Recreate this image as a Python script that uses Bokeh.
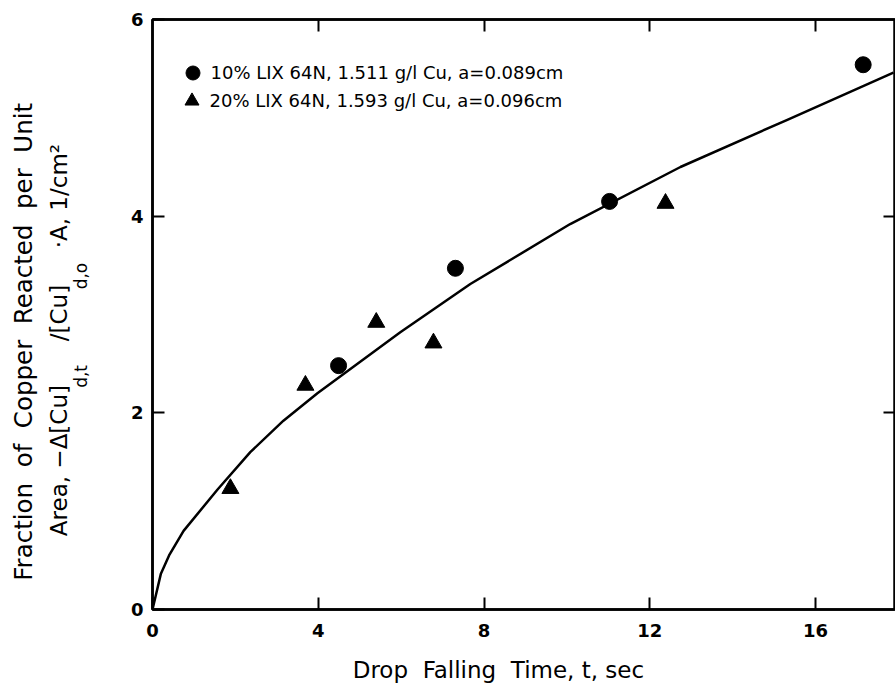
from bokeh.plotting import figure
from bokeh.models import Range1d, LinearAxis, FixedTicker, Legend, LegendItem
from bokeh.embed import file_html
from bokeh.resources import INLINE

# Fraction of copper reacted per unit area vs. drop falling time
t_10 = [4.49, 7.31, 11.03, 17.15]          # 10% LIX 64N, sec
f_10 = [2.48, 3.47, 4.15, 5.54]            # 1/cm^2
t_20 = [1.88, 3.69, 5.40, 6.78, 12.38]     # 20% LIX 64N, sec
f_20 = [1.23, 2.28, 2.92, 2.71, 4.13]      # 1/cm^2

# Model curve
t_fit = [0, 0.2, 0.4, 0.75, 1.57, 2.36, 3.16, 3.98, 5.98, 7.67,
         10.08, 12.74, 15.32, 17.88]
f_fit = [0, 0.36, 0.55, 0.80, 1.22, 1.60, 1.92, 2.20, 2.82, 3.31,
         3.92, 4.50, 4.98, 5.46]

x_ticks = [0, 4, 8, 12, 16]
y_ticks = [0, 2, 4, 6]
series_labels = ["10% LIX 64N, 1.511 g/l Cu, a=0.089cm",
                 "20% LIX 64N, 1.593 g/l Cu, a=0.096cm"]

FONT = "DejaVu Sans"
NB = "\u00a0"   # non-breaking space, used for spacing inside titles


def gap(n):
    return NB * n


x_title = "Drop" + NB + " Falling" + NB + " Time, t, sec" + gap(7)
y_title_1 = (NB + " ").join(["Fraction", "of", "Copper", "Reacted", "per",
                             "Unit"]) + gap(7)
y_title_2 = ("Area, \u2212\u0394[Cu]" + gap(6) + "/[Cu]" + gap(5)
             + "\u00b7A, 1/cm\u00b2" + gap(7))
y_title_sub = "d,t" + gap(14) + "d,o" + gap(4)

p = figure(width=895, height=692, output_backend="svg",
           toolbar_location=None,
           x_range=Range1d(0, 17.93), y_range=Range1d(0, 6),
           min_border_left=152, min_border_right=0,
           min_border_top=19, min_border_bottom=83,
           x_axis_type=None, y_axis_type=None)
p.grid.visible = False
p.outline_line_color = "black"
p.outline_line_width = 2.5
p.background_fill_color = "white"
p.border_fill_color = "white"


def style_axis(ax, labels=True):
    ax.major_tick_in = 12
    ax.major_tick_out = 0
    ax.minor_tick_line_color = None
    ax.axis_line_width = 2.5
    ax.major_tick_line_width = 2
    ax.axis_line_color = "black"
    ax.major_tick_line_color = "black"
    if labels:
        ax.major_label_text_font = FONT
        ax.major_label_text_font_style = "bold"
        ax.major_label_text_font_size = "18px"
        ax.major_label_text_color = "black"
    else:
        ax.major_label_text_color = None
        ax.major_label_text_font_size = "1px"
        ax.major_label_standoff = 0


def style_title(ax, size):
    ax.axis_label_text_font = FONT
    ax.axis_label_text_font_style = "normal"
    ax.axis_label_text_font_size = size
    ax.axis_label_text_color = "black"


# bottom axis with its title
xb = LinearAxis(ticker=FixedTicker(ticks=x_ticks))
style_axis(xb)
xb.major_label_standoff = 14
xb.axis_label = x_title
xb.axis_label_standoff = 17
style_title(xb, "23px")
p.add_layout(xb, "below")

# left axis; its label carries the subscripts of the y title
yl = LinearAxis(ticker=FixedTicker(ticks=y_ticks))
style_axis(yl)
yl.major_label_standoff = 9
yl.axis_label = y_title_sub
yl.axis_label_standoff = 37
style_title(yl, "17px")
p.add_layout(yl, "left")

# two more tick-less left axes holding the two lines of the y title
for text, size, standoff in ((y_title_2, "23px", -4),
                             (y_title_1, "24.5px", 5)):
    ax = LinearAxis(ticker=FixedTicker(ticks=[]))
    ax.major_tick_in = 0
    ax.major_tick_out = 0
    ax.minor_tick_line_color = None
    ax.axis_line_color = None
    ax.major_label_standoff = 0
    ax.axis_label = text
    ax.axis_label_standoff = standoff
    style_title(ax, size)
    p.add_layout(ax, "left")

# tick marks on the top and right edges of the frame
xt = LinearAxis(ticker=FixedTicker(ticks=x_ticks[1:]))
style_axis(xt, labels=False)
p.add_layout(xt, "above")

yr = LinearAxis(ticker=FixedTicker(ticks=y_ticks[1:3]))
style_axis(yr, labels=False)
yr.axis_line_color = None
p.add_layout(yr, "right")

p.line(t_fit, f_fit, line_width=2.5, line_color="black")
r10 = p.scatter(t_10, f_10, marker="circle", size=16, color="black")
r20 = p.scatter(t_20, f_20, marker="triangle", size=17, color="black")

# one legend per series so the two rows sit close together
for lbl, rend, loc in ((series_labels[0], r10, (22.5, 519.5)),
                       (series_labels[1], r20, (21.5, 491.5))):
    lg = Legend(items=[LegendItem(label=lbl, renderers=[rend])],
                location=loc, glyph_width=35, glyph_height=35,
                label_height=35, label_standoff=1, padding=0, margin=0,
                border_line_color=None, background_fill_alpha=0,
                label_text_font=FONT, label_text_font_size="18px",
                label_text_color="black")
    p.add_layout(lg)

open("out.html", "w").write(file_html(p, INLINE))
